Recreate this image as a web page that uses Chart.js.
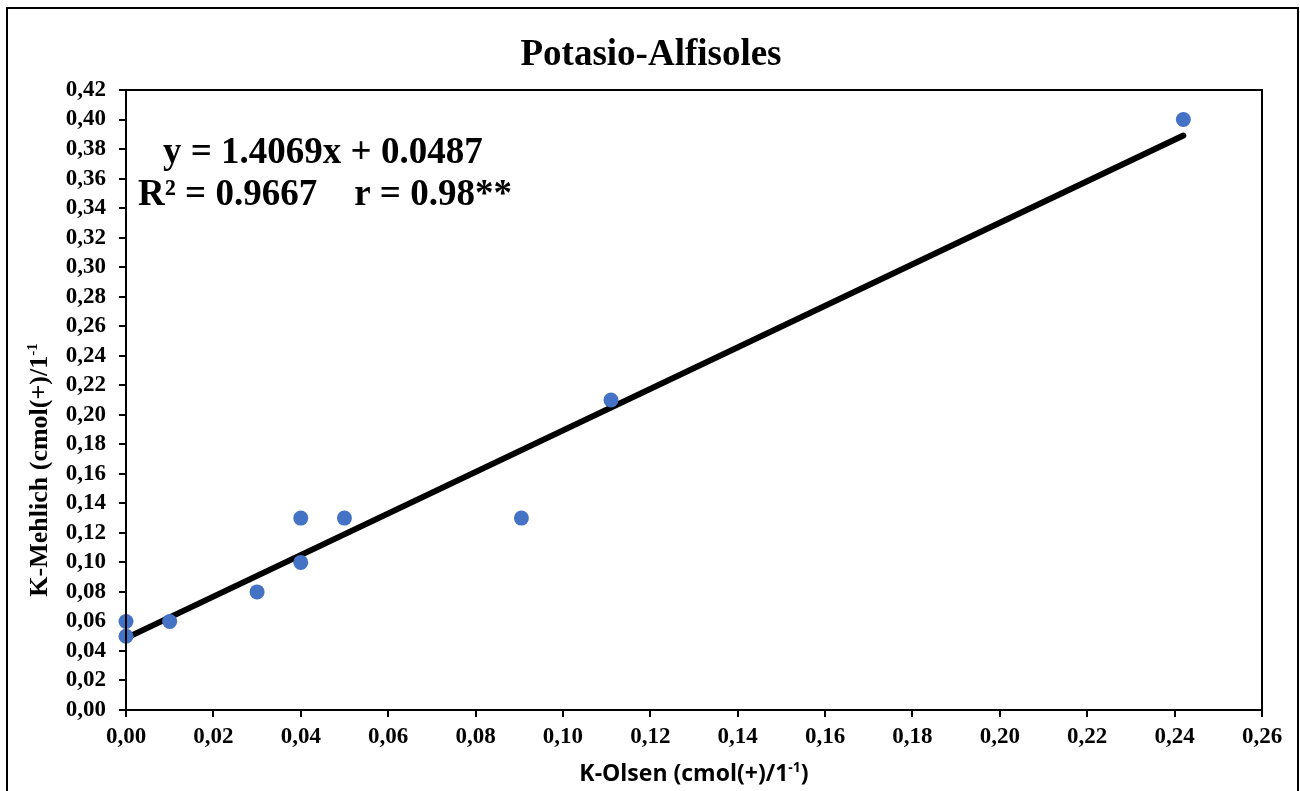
<!DOCTYPE html>
<html>
<head>
<meta charset="utf-8">
<script src="https://cdn.jsdelivr.net/npm/chart.js@4.4.0/dist/chart.umd.min.js"></script>
<style>
html,body{margin:0;padding:0;background:#fff;}
#wrap{width:1300px;height:791px;position:relative;}
canvas{display:block;}
</style>
</head>
<body>
<div id="wrap"><canvas id="c" width="1300" height="791"></canvas></div>
<script>
// Data
const kOlsen   = [0.000, 0.000, 0.010, 0.030, 0.040, 0.040, 0.050, 0.0905, 0.111, 0.242];
const kMehlich = [0.060, 0.050, 0.060, 0.080, 0.130, 0.100, 0.130, 0.130,  0.210, 0.400];
const trendSlope = 1.4069;
const trendIntercept = 0.0487;
const chartTitle = 'Potasio-Alfisoles';
const eqLine1 = 'y = 1.4069x + 0.0487';
const eqLine2 = 'R\u00B2 = 0.9667    r = 0.98**';
const xTitleMain = 'K-Olsen (cmol(+)/1';
const xTitleSup = '-1';
const xTitleEnd = ')';
const yTitleMain = 'K-Mehlich (cmol(+)/1';
const yTitleSup = '-1';

const points = kOlsen.map((x, i) => ({x: x, y: kMehlich[i]}));
const xMin = Math.min(...kOlsen), xMax = Math.max(...kOlsen);
const trend = [xMin, xMax].map(x => ({x: x, y: trendSlope * x + trendIntercept}));

const fmt = v => Number(v).toFixed(2).replace('.', ',');
const SERIF = '"Liberation Serif", "Times New Roman", serif';

const decor = {
  id: 'decor',
  beforeDraw(chart) {
    const ctx = chart.ctx;
    ctx.save();
    ctx.fillStyle = '#fff';
    ctx.fillRect(0, 0, chart.width, chart.height);
    ctx.restore();
  },
  afterDraw(chart) {
    const ctx = chart.ctx;
    const a = chart.chartArea;
    ctx.save();
    // outer frame
    ctx.strokeStyle = '#000';
    ctx.lineWidth = 2;
    ctx.strokeRect(7, 8, 1291, 800);
    // plot area frame
    ctx.lineWidth = 2;
    ctx.strokeRect(a.left, a.top, a.right - a.left, a.bottom - a.top);

    ctx.fillStyle = '#000';
    ctx.textBaseline = 'alphabetic';

    // chart title
    ctx.font = 'bold 37px ' + SERIF;
    ctx.textAlign = 'center';
    ctx.fillText(chartTitle, 651, 65);

    // equation text
    ctx.textAlign = 'left';
    ctx.fillText(eqLine1, 163, 163);
    ctx.fillText(eqLine2, 138, 205);

    // x axis title
    const xf = 'bold 23px "Open Sans", Lato, sans-serif';
    const xs = 'bold 14px "Open Sans", Lato, sans-serif';
    ctx.font = xf;
    const w1 = ctx.measureText(xTitleMain).width;
    const w3 = ctx.measureText(xTitleEnd).width;
    ctx.font = xs;
    const w2 = ctx.measureText(xTitleSup).width;
    const cx = (a.left + a.right) / 2;
    let x0 = cx - (w1 + w2 + w3) / 2;
    const by = 781;
    ctx.font = xf; ctx.fillText(xTitleMain, x0, by);
    ctx.font = xs; ctx.fillText(xTitleSup, x0 + w1, by - 9);
    ctx.font = xf; ctx.fillText(xTitleEnd, x0 + w1 + w2, by);

    // y axis title (rotated)
    const yf = 'bold 26px ' + SERIF;
    const ys = 'bold 15px ' + SERIF;
    ctx.font = yf;
    const v1 = ctx.measureText(yTitleMain).width;
    ctx.font = ys;
    const v2 = ctx.measureText(yTitleSup).width;
    ctx.translate(47, 470);
    ctx.rotate(-Math.PI / 2);
    const y0 = -(v1 + v2) / 2;
    ctx.font = yf; ctx.fillText(yTitleMain, y0, 0);
    ctx.font = ys; ctx.fillText(yTitleSup, y0 + v1, -10);
    ctx.restore();
  }
};

new Chart(document.getElementById('c'), {
  type: 'scatter',
  data: {
    datasets: [
      {
        label: 'Trend',
        data: trend,
        showLine: true,
        borderColor: '#000',
        borderWidth: 6,
        borderCapStyle: 'round',
        pointRadius: 0,
        clip: false,
        order: 2
      },
      {
        label: 'K',
        data: points,
        backgroundColor: '#4472C4',
        borderColor: '#4472C4',
        pointRadius: 7.5,
        pointHoverRadius: 7.5,
        borderWidth: 0,
        clip: false,
        order: 1
      }
    ]
  },
  options: {
    responsive: false,
    animation: false,
    devicePixelRatio: 1,
    layout: { padding: { left: 0, right: 38, top: 90, bottom: 0 }, autoPadding: false },
    plugins: {
      legend: { display: false },
      tooltip: { enabled: false },
      title: { display: false }
    },
    scales: {
      x: {
        type: 'linear',
        min: 0, max: 0.26,
        afterFit: s => { s.height = 81; },
        ticks: {
          stepSize: 0.02,
          color: '#000',
          font: { family: SERIF, size: 23, weight: 'bold' },
          padding: 6,
          maxRotation: 0,
          autoSkip: false,
          callback: v => fmt(v)
        },
        grid: { drawOnChartArea: false, drawTicks: true, tickLength: 7, color: '#000', lineWidth: 2 },
        border: { display: true, color: '#000', width: 2 }
      },
      y: {
        type: 'linear',
        min: 0, max: 0.42,
        afterFit: s => { s.width = 126; },
        ticks: {
          stepSize: 0.02,
          color: '#000',
          font: { family: SERIF, size: 23, weight: 'bold' },
          padding: 13,
          autoSkip: false,
          callback: v => fmt(v)
        },
        grid: { drawOnChartArea: false, drawTicks: true, tickLength: 7, color: '#000', lineWidth: 2 },
        border: { display: true, color: '#000', width: 2 }
      }
    }
  },
  plugins: [decor]
});
</script>
</body>
</html>
